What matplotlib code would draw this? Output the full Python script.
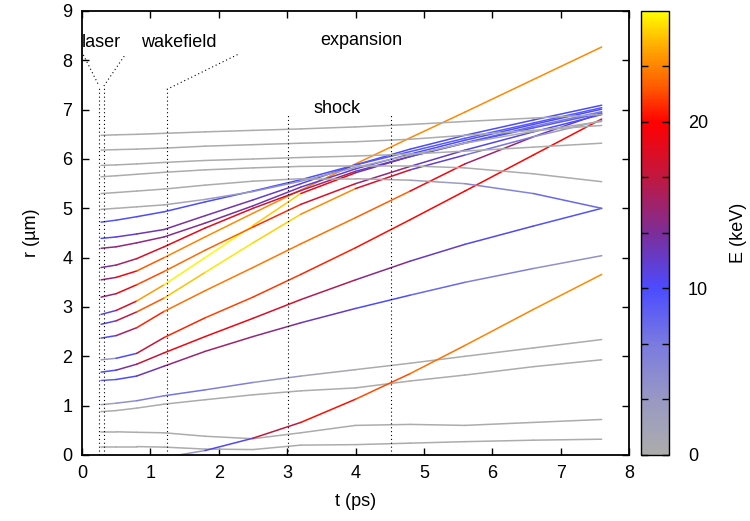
import numpy as np
import matplotlib
matplotlib.use("Agg")
import matplotlib.pyplot as plt
from matplotlib.collections import LineCollection
from matplotlib.colors import LinearSegmentedColormap, Normalize
from matplotlib.cm import ScalarMappable

plt.rcParams['font.family'] = ['Liberation Sans', 'DejaVu Sans']
plt.rcParams['font.size'] = 13

# sample times of the ion trajectories (ps)
T_PS = [0.28, 0.5, 0.8, 1.2, 1.8, 2.5, 3.2, 4.0, 4.8, 5.6, 6.6, 7.6]

nan = np.nan

# radius of each tracked ion at the sample times (um)
RADIUS_UM = [
    [0.17, 0.17, 0.17, 0.16, 0.12, 0.11, 0.20, 0.21, 0.24, 0.27, 0.30, 0.32],
    [0.47, 0.47, 0.46, 0.45, 0.38, 0.33, 0.45, 0.60, 0.62, 0.60, 0.66, 0.72],
    [0.88, 0.90, 0.95, 1.03, 1.12, 1.22, 1.30, 1.36, 1.50, 1.62, 1.79, 1.93],
    [1.02, 1.05, 1.10, 1.20, 1.32, 1.47, 1.60, 1.73, 1.86, 2.00, 2.17, 2.34],
    [nan, nan, nan, -0.05, 0.09, 0.34, 0.66, 1.13, 1.65, 2.22, 2.95, 3.66],
    [1.51, 1.53, 1.60, 1.80, 2.10, 2.40, 2.68, 2.97, 3.24, 3.50, 3.78, 4.04],
    [1.68, 1.72, 1.84, 2.07, 2.40, 2.77, 3.15, 3.55, 3.93, 4.27, 4.64, 5.00],
    [1.93, 1.96, 2.06, 2.38, 2.78, 3.20, 3.66, 4.20, 4.77, 5.35, 6.08, 6.81],
    [2.37, 2.42, 2.58, 2.91, 3.33, 3.80, 4.28, 4.81, 5.35, 5.90, 6.45, 6.93],
    [2.65, 2.72, 2.90, 3.18, 3.70, 4.30, 4.88, 5.40, 5.78, 6.08, 6.45, 6.78],
    [2.85, 2.93, 3.12, 3.45, 4.00, 4.65, 5.30, 5.72, 6.05, 6.33, 6.66, 6.96],
    [3.20, 3.27, 3.45, 3.72, 4.15, 4.62, 5.08, 5.50, 5.85, 6.18, 6.55, 6.90],
    [3.55, 3.60, 3.73, 4.00, 4.42, 4.90, 5.37, 5.90, 6.43, 6.95, 7.61, 8.27],
    [3.80, 3.85, 3.98, 4.22, 4.60, 5.00, 5.36, 5.75, 6.05, 6.32, 6.63, 6.93],
    [4.19, 4.22, 4.30, 4.42, 4.70, 5.05, 5.43, 5.80, 6.10, 6.38, 6.70, 7.01],
    [4.39, 4.42, 4.48, 4.57, 4.85, 5.17, 5.50, 5.88, 6.20, 6.48, 6.79, 7.09],
    [4.72, 4.76, 4.83, 4.93, 5.13, 5.35, 5.58, 5.88, 6.15, 6.42, 6.73, 7.04],
    [4.98, 5.00, 5.03, 5.07, 5.18, 5.34, 5.55, 5.83, 6.08, 6.32, 6.56, 6.76],
    [5.30, 5.32, 5.35, 5.39, 5.47, 5.55, 5.60, 5.60, 5.57, 5.50, 5.30, 5.00],
    [5.64, 5.66, 5.69, 5.73, 5.78, 5.82, 5.85, 5.86, 5.86, 5.82, 5.70, 5.54],
    [5.87, 5.88, 5.90, 5.93, 5.97, 6.00, 6.03, 6.06, 6.10, 6.16, 6.24, 6.32],
    [6.18, 6.19, 6.20, 6.22, 6.26, 6.29, 6.32, 6.35, 6.40, 6.48, 6.58, 6.68],
    [6.48, 6.49, 6.50, 6.52, 6.55, 6.58, 6.61, 6.65, 6.70, 6.76, 6.83, 6.90],
]

# kinetic energy of each ion at the sample times (keV)
ENERGY_KEV = [
    [0, 0, 0, 0, 0, 0, 0, 0, 0, 0, 0, 0],
    [0, 0, 0, 0, 0, 0, 0, 0, 0, 0, 0, 0],
    [0, 0, 0, 0, 0, 0, 0, 0, 0, 0, 0, 0],
    [0, 3, 5, 7, 7, 5, 2, 0, 0, 0, 0, 0],
    [nan, nan, nan, 0, 7, 14, 19.5, 21, 22.5, 23, 23.5, 23.5],
    [8, 9, 11, 14, 15, 15, 13, 11, 9, 7, 5, 3],
    [9, 11, 15, 19, 19.5, 19, 17, 15, 13, 11, 10, 9],
    [0, 6, 14, 20, 21.5, 21.5, 21, 20.5, 20, 20, 20, 20],
    [8, 12, 19, 22.5, 23, 23, 23, 22.5, 22, 17, 13, 11],
    [8, 13, 20, 24, 26, 26, 25, 22, 14, 9, 5, 2],
    [8, 14, 22, 26, 26.5, 26.5, 24, 15, 11, 9, 7, 6],
    [12, 17, 21, 22.5, 22.5, 22, 20, 16, 13, 11, 10, 10],
    [12, 17, 21, 23, 23.5, 23.5, 23.5, 23.5, 23.5, 23.5, 23.5, 23.5],
    [12, 14, 17, 19, 19, 18, 16, 13, 11, 10, 9, 9],
    [14, 14.5, 14.5, 14, 13.5, 13, 12, 11, 10, 10, 10, 10],
    [9, 11, 12, 13, 13, 12, 11, 10, 10, 10, 10, 10],
    [9, 9.5, 10, 10, 10, 10, 10, 9.5, 9, 9, 9, 9],
    [0, 0, 0, 0, 2, 4, 4, 2, 0, 0, 0, 0],
    [0, 0, 0, 0, 0, 0, 0, 0, 1, 4, 7, 9],
    [0, 0, 0, 0, 0, 0, 0, 0, 0, 0, 0, 0],
    [0, 0, 0, 0, 0, 0, 0, 0, 0, 0, 0, 0],
    [0, 0, 0, 0, 0, 0, 0, 0, 0, 0, 0, 0],
    [0, 0, 0, 0, 0, 0, 0, 0, 0, 0, 0, 0],
]

E_MAX = 80.0 / 3.0

# phase markers: dotted verticals in ps
LASER_T = [0.25, 0.32]
WAKE_T = 1.24
SHOCK_T = [3.02, 4.52]

palette = LinearSegmentedColormap.from_list("energy", [
    (0.0, "#acacac"),
    (0.125, "#9898c4"),
    (0.25, "#7a7ae0"),
    (0.375, "#4b4bff"),
    (0.5, "#7c2e98"),
    (0.625, "#c01840"),
    (0.75, "#ff0000"),
    (0.83, "#ff5a00"),
    (0.92, "#ffaa00"),
    (1.0, "#ffff00"),
])
norm = Normalize(0, E_MAX)

fig = plt.figure(figsize=(7.5, 5.21), dpi=100)
ax = fig.add_axes([0.1093, 0.1267, 0.7294, 0.8522])
cax = fig.add_axes([0.8547, 0.1267, 0.0368, 0.8522])

t = np.array(T_PS)
for r, e in zip(RADIUS_UM, ENERGY_KEV):
    r = np.array(r, dtype=float)
    e = np.array(e, dtype=float)
    pts = np.column_stack([t, r])
    segs = np.stack([pts[:-1], pts[1:]], axis=1)
    seg_e = 0.5 * (e[:-1] + e[1:])
    ok = np.isfinite(segs).all(axis=(1, 2))
    lc = LineCollection(segs[ok], cmap=palette, norm=norm, linewidths=1.1,
                        capstyle='round', joinstyle='round')
    lc.set_array(seg_e[ok])
    ax.add_collection(lc)

dot = dict(color='black', lw=0.8, ls=(0, (1, 2.5)))
for x in LASER_T:
    ax.plot([x, x], [0, 7.48], **dot)
ax.plot([0.02, 0.25], [8.11, 7.48], **dot)
ax.plot([0.32, 0.63], [7.48, 8.11], **dot)
ax.plot([WAKE_T, WAKE_T], [0, 7.41], **dot)
ax.plot([WAKE_T, 2.31], [7.41, 8.14], **dot)
for x in SHOCK_T:
    ax.plot([x, x], [0, 6.89], **dot)

ax.text(0.0, 8.37, 'laser', va='center', ha='left')
ax.text(0.86, 8.37, 'wakefield', va='center', ha='left')
ax.text(3.48, 8.41, 'expansion', va='center', ha='left')
ax.text(3.38, 7.03, 'shock', va='center', ha='left')

ax.set_xlim(0, 8)
ax.set_ylim(0, 9)
ax.set_xticks(range(0, 9))
ax.set_yticks(range(0, 10))
ax.tick_params(direction='in', top=True, right=True, length=5, width=1, pad=7)
for s in ax.spines.values():
    s.set_linewidth(1.3)
ax.set_xlabel('t (ps)', labelpad=8)
ax.set_ylabel('r (µm)', labelpad=16)

cb = fig.colorbar(ScalarMappable(norm=norm, cmap=palette), cax=cax)
ticks = [i * 10.0 / 3.0 for i in range(8)]
cb.set_ticks(ticks)
cb.set_ticklabels(['0' if i == 0 else ('%d' % round(v) if i % 3 == 0 else '')
                   for i, v in enumerate(ticks)])
cax.tick_params(direction='in', length=5, width=1, left=True, right=True, pad=14)
cb.outline.set_linewidth(1.0)
cb.set_label('E (keV)', labelpad=16)

fig.savefig('out.png', dpi=100)
